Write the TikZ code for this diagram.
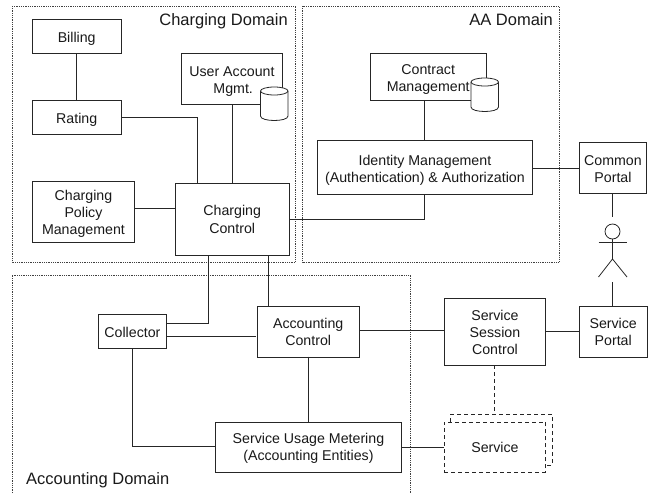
\documentclass[tikz,border=0pt]{standalone}
\usepackage{fontspec}
\setmainfont{Liberation Sans}
\definecolor{ln}{gray}{0.15}
\tikzset{
  x=1pt,y=-1pt,
  boxnode/.style={draw=ln,line width=0.9pt,fill=white,inner sep=0pt,align=center,font=\fontsize{14.2}{17.2}\selectfont,text=black!90},
  dashbox/.style={boxnode,dash pattern=on 4pt off 3pt},
  domframe/.style={draw=black!75,line width=0.75pt,dash pattern=on 0.9pt off 0.9pt},
  domlabel/.style={font=\fontsize{16.5}{20}\selectfont,text=black!90,inner sep=0pt},
  conn/.style={draw=ln,line width=0.9pt},
  dashconn/.style={conn,dash pattern=on 4pt off 3pt},
  cyl/.style={draw=ln,line width=0.8pt,fill=white},
}
\newcommand{\dn}[1]{\rule{0pt}{\dimexpr 10.3pt+#1pt*2\relax}}
\newcommand{\bx}[7][boxnode]{% style, name, x1, y1, x2, y2, text
  \node[#1,minimum width=#5pt-#3pt,minimum height=#6pt-#4pt,anchor=north west] (#2) at (#3,#4) {#7};}
\newcommand{\cylinder}[4]{% x1, y-top, x2, y-bottom
  \fill[white] (#1,#2+4) rectangle (#3,#4-4);
  \draw[cyl] (#1,#2+4) -- (#1,#4-4) .. controls (#1,#4+2) and (#3,#4+2) .. (#3,#4-4) -- (#3,#2+4);
  \draw[cyl] ({(#1+#3)/2},#2+4) ellipse [x radius={(#3-#1)/2},y radius=4];}
\begin{document}
\begin{tikzpicture}
\useasboundingbox (0,0) rectangle (653,493);
% domains
\draw[domframe] (12,6) rectangle (295.5,262);
\draw[domframe] (302.5,6) rectangle (559,262);
\draw[domframe] (12,493) -- (12,275) -- (410,275) -- (410,493);
\node[domlabel,anchor=base east] at (288,25) {Charging Domain};
\node[domlabel,anchor=base east] at (553,25) {AA Domain};
\node[domlabel,anchor=base west] at (26,484) {Accounting Domain};
% boxes
\bx{billing}{32}{19}{120.5}{53}{\dn{2}Billing}
\bx{rating}{32}{100}{120.5}{134}{\dn{2}Rating}
\bx{ua}{181}{53}{282}{104}{\dn{2.5}User Account\\\hspace*{2.5pt}Mgmt.}
\bx{policy}{32}{181}{134}{242}{\dn{2}Charging\\Policy\\Management}
\bx{cc}{174.5}{183}{289}{255}{Charging\\Control}
\bx{contract}{369.5}{53}{486}{100}{\dn{2}Contract\\Management}
\bx{idm}{317}{140}{532}{194}{\dn{2.5}Identity Management\\(Authentication) \& Authorization}
\bx{common}{579}{142}{646}{193}{\dn{1}Common\\Portal}
\bx{collector}{98}{314}{166}{348}{\dn{1}Collector}
\bx{ac}{257}{306}{358.5}{356.5}{\dn{0.5}Accounting\\Control}
\bx{su}{215}{421.5}{401}{472}{\dn{1}Service Usage Metering\\(Accounting Entities)}
\bx{ssc}{444}{297.5}{545}{365}{\dn{1}Service\\Session\\Control}
\bx{sp}{579}{306}{646.5}{356.5}{\dn{0.5}Service\\Portal}
\draw[dashconn] (450.5,421.5) -- (450.5,414) -- (552,414) -- (552,465) -- (545,465);
\bx[dashbox]{svc}{444}{421.5}{545}{472}{Service}
% cylinders
\cylinder{260.5}{87}{288}{120}
\cylinder{471}{78}{498.5}{111}
% actor
\coordinate (actortop) at (612.5,217);
\coordinate (actorbot) at (612.5,282);
\node[draw=ln,line width=0.8pt,circle,minimum size=15pt,inner sep=0pt] (head) at (612.5,231.5) {};
\draw[conn,line width=0.8pt] (598.5,242) -- (627,242);
\draw[conn,line width=0.8pt] (head.south) -- (612.5,259) coordinate (hip);
\draw[conn,line width=0.8pt] (598.5,277) -- (hip) -- (627,277);
% connectors
\draw[conn] (billing) -- (rating);
\draw[conn] (rating.east) -| (197,183);
\draw[conn] (ua.south) -- (ua.south |- cc.north);
\draw[conn] (policy.east |- 0,208) -- (cc.west |- 0,208);
\draw[conn] (cc.east |- 0,219) -| (idm.south -| 424.5,0);
\draw[conn] (424.5,100) -- (424.5,140);
\draw[conn] (idm.east |- 0,168) -- (common.west |- 0,168);
\draw[conn] (common.south -| actortop) -- (actortop);
\draw[conn] (sp.north -| actorbot) -- (actorbot);
\draw[conn] (208,255) |- (166,323.5);
\draw[conn] (268.5,255) -- (268.5,306);
\draw[conn] (167,336.5) -- (256,336.5);
\draw[conn] (collector.south -| 132,0) |- (su.west |- 0,446.5);
\draw[conn] (308,356.5) -- (308,421.5);
\draw[conn] (ac.east |- 0,330) -- (ssc.west |- 0,330);
\draw[conn] (ssc.east |- 0,331) -- (sp.west |- 0,331);
\draw[dashconn] (494.5,365) -- (494.5,414);
\draw[conn] (su.east |- 0,447) -- (svc.west |- 0,447);
\end{tikzpicture}
\end{document}
